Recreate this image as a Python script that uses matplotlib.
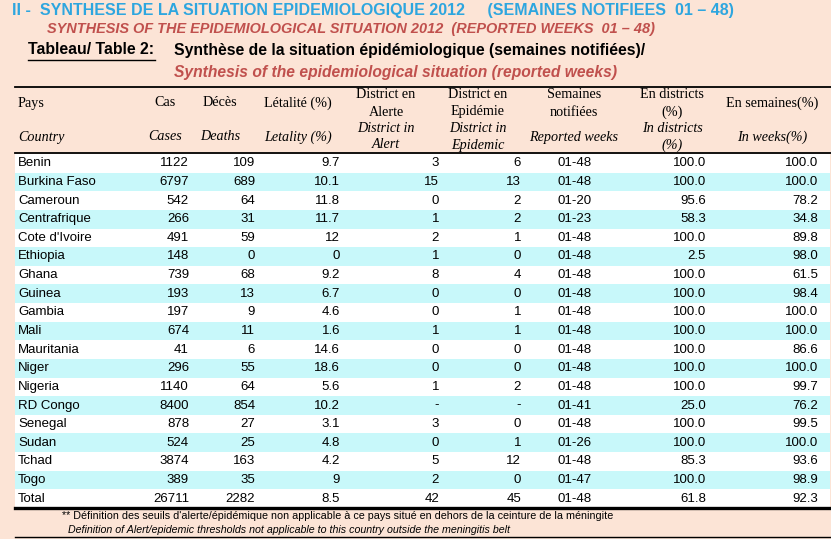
import matplotlib.pyplot as plt

# donnees du tableau 2 (semaines 01-48, 2012)
countries = ['Benin', 'Burkina Faso', 'Cameroun', 'Centrafrique', "Cote d'Ivoire", 'Ethiopia',
             'Ghana', 'Guinea', 'Gambia', 'Mali', 'Mauritania', 'Niger', 'Nigeria', 'RD Congo',
             'Senegal', 'Sudan', 'Tchad', 'Togo', 'Total']
cases = [1122, 6797, 542, 266, 491, 148, 739, 193, 197, 674, 41, 296, 1140, 8400, 878, 524, 3874, 389, 26711]
deaths = [109, 689, 64, 31, 59, 0, 68, 13, 9, 11, 6, 55, 64, 854, 27, 25, 163, 35, 2282]
letality = ['9.7', '10.1', '11.8', '11.7', '12', '0', '9.2', '6.7', '4.6', '1.6', '14.6', '18.6',
            '5.6', '10.2', '3.1', '4.8', '4.2', '9', '8.5']
alert = ['3', '15', '0', '1', '2', '1', '8', '0', '0', '1', '0', '0', '1', '-', '3', '0', '5', '2', '42']
epidemic = ['6', '13', '2', '2', '1', '0', '4', '0', '1', '1', '0', '0', '2', '-', '0', '1', '12', '0', '45']
weeks = ['01-48', '01-48', '01-20', '01-23', '01-48', '01-48', '01-48', '01-48', '01-48', '01-48',
         '01-48', '01-48', '01-48', '01-41', '01-48', '01-26', '01-48', '01-47', '01-48']
pct_districts = [100.0, 100.0, 95.6, 58.3, 100.0, 2.5, 100.0, 100.0, 100.0, 100.0, 100.0, 100.0,
                 100.0, 25.0, 100.0, 100.0, 85.3, 100.0, 61.8]
pct_weeks = [100.0, 100.0, 78.2, 34.8, 89.8, 98.0, 61.5, 98.4, 100.0, 100.0, 86.6, 100.0, 99.7,
             76.2, 99.5, 100.0, 93.6, 98.9, 92.3]

BG = '#fce4d6'
STRIPE = '#c8f8fa'
BLUE = '#2ea6df'
RED = '#c0504d'
SANS = ['Liberation Sans', 'DejaVu Sans']
NARROW = ['Liberation Sans Narrow', 'Liberation Sans', 'DejaVu Sans']
SERIF = ['Liberation Serif', 'DejaVu Serif']

fig = plt.figure(figsize=(8.31, 5.39), dpi=100)
fig.patch.set_facecolor(BG)
ax = fig.add_axes([0, 0, 1, 1])
ax.set_xlim(0, 831)
ax.set_ylim(539, 0)
ax.axis('off')
ax.set_facecolor(BG)

renderer = fig.canvas.get_renderer()


def fit(t, width):
    # ajuste la taille de police pour avoir la largeur voulue (en pixels)
    bb = t.get_window_extent(renderer)
    t.set_fontsize(t.get_fontsize() * width / bb.width)
    return t


# titres
fit(ax.text(12, 11, 'II -  SYNTHESE DE LA SITUATION EPIDEMIOLOGIQUE 2012     (SEMAINES NOTIFIEES  01 \u2013 48)',
            color=BLUE, weight='bold', family=NARROW, fontsize=12, va='center'), 718)
fit(ax.text(47, 29, 'SYNTHESIS OF THE EPIDEMIOLOGICAL SITUATION 2012  (REPORTED WEEKS  01 \u2013 48)',
            color=RED, weight='bold', style='italic', family=NARROW, fontsize=11, va='center'), 608)
fit(ax.text(28, 50, 'Tableau/ Table 2:', color='black', weight='bold', family=NARROW,
            fontsize=11, va='center'), 127)
ax.plot([28, 155], [59.5, 59.5], color='black', lw=1)
fit(ax.text(174, 50, 'Synth\u00e8se de la situation \u00e9pid\u00e9miologique (semaines notifi\u00e9es)/',
            color='black', weight='bold', family=NARROW, fontsize=11, va='center'), 471)
fit(ax.text(174, 72, 'Synthesis of the epidemiological situation (reported weeks)',
            color=RED, weight='bold', style='italic', family=NARROW, fontsize=11, va='center'), 444)

# lignes de rang
top = 154
row_h = (508 - top) / len(countries)
centers = [top + (i + 0.5) * row_h for i in range(len(countries))]
ax.barh([centers[i] for i in range(len(countries))], 815, left=15, height=row_h,
        color=[STRIPE if i % 2 else 'white' for i in range(len(countries))], zorder=1)

ax.plot([15, 831], [87, 87], color='black', lw=1.3, zorder=3)
ax.plot([15, 831], [153, 153], color='black', lw=1.3, zorder=3)
ax.plot([15, 831], [508, 508], color='black', lw=2.4, zorder=3)
ax.plot([15, 831], [537, 537], color='black', lw=1.0, zorder=3)

# en-tetes
hs = 10.2
ax.text(18, 103, 'Pays', family=SERIF, fontsize=hs, va='center', ha='left')
ax.text(18, 137, 'Country', family=SERIF, style='italic', fontsize=hs, va='center', ha='left')
single = [(165, 'Cas', 'Cases'), (220, 'D\u00e9c\u00e8s', 'Deaths'),
          (298, 'L\u00e9talit\u00e9 (%)', 'Letality (%)'),
          (772, 'En semaines(%)', 'In weeks(%)')]
for x, fr, en in single:
    ax.text(x, 103, fr, family=SERIF, fontsize=hs, va='center', ha='center')
    ax.text(x, 137, en, family=SERIF, style='italic', fontsize=hs, va='center', ha='center')
double = [(386, 'District en', 'Alerte', 'District in', 'Alert'),
          (478, 'District en', 'Epid\u00e9mie', 'District in', 'Epidemic'),
          (672, 'En districts', '(%)', 'In districts', '(%)')]
for x, fr1, fr2, en1, en2 in double:
    ax.text(x, 95, fr1, family=SERIF, fontsize=hs, va='center', ha='center')
    ax.text(x, 112, fr2, family=SERIF, fontsize=hs, va='center', ha='center')
    ax.text(x, 128, en1, family=SERIF, style='italic', fontsize=hs, va='center', ha='center')
    ax.text(x, 145, en2, family=SERIF, style='italic', fontsize=hs, va='center', ha='center')
ax.text(574, 95, 'Semaines', family=SERIF, fontsize=hs, va='center', ha='center')
ax.text(574, 112, 'notifi\u00e9es', family=SERIF, fontsize=hs, va='center', ha='center')
ax.text(574, 137, 'Reported weeks', family=SERIF, style='italic', fontsize=hs, va='center', ha='center')

# corps du tableau
ds = 9.5
for i, y in enumerate(centers):
    kw = dict(family=SANS, fontsize=ds, va='center', zorder=4)
    ax.text(18, y, countries[i], ha='left', **kw)
    ax.text(189, y, str(cases[i]), ha='right', **kw)
    ax.text(255, y, str(deaths[i]), ha='right', **kw)
    ax.text(340, y, letality[i], ha='right', **kw)
    ax.text(439, y, alert[i], ha='right', **kw)
    ax.text(521, y, epidemic[i], ha='right', **kw)
    ax.text(575, y, weeks[i], ha='center', **kw)
    ax.text(706, y, f'{pct_districts[i]:.1f}', ha='right', **kw)
    ax.text(818, y, f'{pct_weeks[i]:.1f}', ha='right', **kw)

# notes
fit(ax.text(62, 516, "** D\u00e9finition des seuils d'alerte/\u00e9pid\u00e9mique non applicable \u00e0 ce pays situ\u00e9 "
            "en dehors de la ceinture de la m\u00e9ningite", family=NARROW, fontsize=7, va='center'), 543)
fit(ax.text(68, 530, 'Definition of Alert/epidemic thresholds not applicable to this country outside the meningitis belt',
            family=NARROW, style='italic', fontsize=7, va='center'), 441)

fig.savefig('out.png', dpi=100, facecolor=BG)
